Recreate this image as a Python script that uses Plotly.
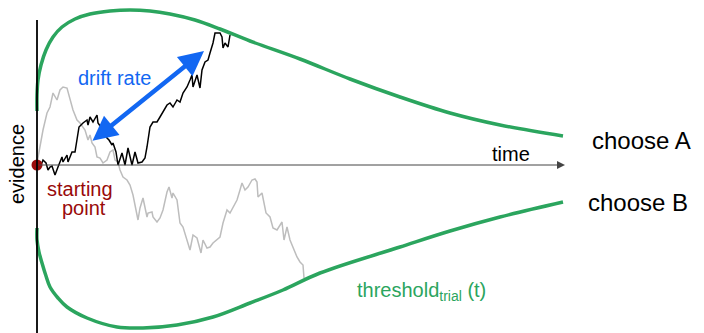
import plotly.graph_objects as go

# ---- data (pixel-like units: x = time, y = evidence, y axis drawn downward) ----
upper_x = [37, 37, 38, 41, 46, 53, 62, 75, 90, 110, 130, 150, 170, 195, 220, 250, 300, 350, 400, 450, 500, 563]
upper_y = [111, 95, 80, 65, 50, 37, 27, 19, 14, 11, 10, 11, 14, 20, 29, 41, 59, 79, 97, 113, 125, 136]

lower_x = [37, 37, 39, 42, 46, 50, 58, 67, 87, 117, 143, 177, 213, 250, 283, 320, 400, 450, 500, 563]
lower_y = [228, 240, 252, 263, 276, 287, 298, 307, 318, 327, 328, 325, 317, 303, 290, 273, 247, 231, 217, 202]

black_x = [37, 40, 43, 46, 48, 50, 52, 55, 58, 62, 63, 67, 68, 72, 75, 77, 79, 83, 87, 88, 90, 93, 97, 98,
           101, 103, 107, 109, 112, 113, 116, 118, 122, 125, 128, 132, 135, 138, 142, 145, 147, 150, 153,
           157, 160, 163, 167, 170, 173, 177, 180, 183, 187, 190, 192, 193, 197, 200, 202, 205, 208, 210,
           213, 215, 220, 222, 223, 225, 228, 230]
black_y = [165, 168, 160, 163, 170, 167, 166, 175, 167, 157, 162, 155, 162, 152, 152, 140, 127, 123, 120, 125,
           117, 122, 115, 123, 127, 130, 138, 140, 145, 143, 152, 165, 153, 165, 148, 165, 152, 163, 162,
           158, 147, 127, 122, 122, 117, 112, 105, 103, 107, 100, 102, 93, 87, 80, 75, 87, 75, 88, 70, 62,
           60, 53, 43, 33, 33, 37, 48, 43, 47, 35]

gray_x = [37, 40, 43, 47, 50, 53, 57, 60, 63, 67, 70, 73, 77, 80, 85, 88, 90, 92, 95, 97, 100, 103, 107, 110,
          113, 115, 118, 120, 123, 127, 130, 133, 138, 140, 143, 147, 148, 152, 153, 157, 160, 163, 167, 169,
          172, 173, 177, 180, 183, 187, 190, 193, 197, 201, 203, 207, 210, 213, 217, 220, 223, 227, 230, 233,
          237, 240, 242, 245, 248, 252, 255, 257, 258, 262, 263, 266, 270, 273, 277, 282, 284, 287, 290, 293,
          297, 300, 303, 304]
gray_y = [163, 147, 130, 113, 107, 93, 100, 90, 87, 88, 100, 110, 120, 123, 130, 140, 135, 143, 147, 157, 158,
          163, 160, 152, 150, 160, 162, 170, 177, 180, 185, 195, 220, 208, 198, 217, 213, 212, 217, 222, 218,
          210, 192, 187, 198, 193, 200, 223, 227, 240, 250, 235, 238, 253, 240, 248, 247, 243, 240, 237, 223,
          210, 213, 208, 200, 190, 183, 190, 187, 180, 179, 182, 197, 193, 198, 213, 217, 228, 230, 222, 240,
          227, 240, 247, 257, 262, 265, 278]

start_x = [37]
start_y = [165]

GREEN = "#2ba55e"
BLUE = "#1267f2"
RED = "#990a0a"
GRAY = "#bdbdbd"
FONT = "Liberation Sans, Arial, sans-serif"

fig = go.Figure()

fig.add_trace(go.Scatter(x=gray_x, y=gray_y, mode="lines", line=dict(color=GRAY, width=1.5), hoverinfo="skip"))
fig.add_trace(go.Scatter(x=black_x, y=black_y, mode="lines", line=dict(color="black", width=1.5), hoverinfo="skip"))
fig.add_trace(go.Scatter(x=upper_x, y=upper_y, mode="lines", line=dict(color=GREEN, width=3.5, shape="spline", smoothing=1.0), hoverinfo="skip"))
fig.add_trace(go.Scatter(x=lower_x, y=lower_y, mode="lines", line=dict(color=GREEN, width=3.5, shape="spline", smoothing=1.0), hoverinfo="skip"))

# vertical evidence axis
fig.add_shape(type="line", x0=37, x1=37, y0=20, y1=333, xref="x", yref="y", line=dict(color="black", width=1.8))

# time axis with arrow
fig.add_annotation(x=565, y=165, ax=37, ay=165, xref="x", yref="y", axref="x", ayref="y",
                   text="", showarrow=True, arrowhead=2, arrowsize=1.6, arrowwidth=1, arrowcolor="#444444", standoff=0)

# drift-rate double arrow
fig.add_annotation(x=204, y=51, ax=91, ay=142, xref="x", yref="y", axref="x", ayref="y",
                   text="", showarrow=True, arrowhead=2, startarrowhead=2, arrowside="end+start",
                   arrowsize=1.1, startarrowsize=1.1, arrowwidth=4.5, arrowcolor=BLUE, standoff=0, startstandoff=0)

fig.add_trace(go.Scatter(x=start_x, y=start_y, mode="markers", marker=dict(color=RED, size=11), hoverinfo="skip"))

def label(text, x, y, color="black", size=20, angle=0, xanchor="center"):
    fig.add_annotation(x=x, y=y, xref="x", yref="y", text=text, showarrow=False, textangle=angle,
                       xanchor=xanchor, yanchor="middle", font=dict(family=FONT, size=size, color=color))

label("evidence", 17, 164, angle=-90)
label("starting", 80, 189, color=RED)
label("point", 84, 208, color=RED)
label("drift rate", 114, 78, color=BLUE)
label("time", 511, 154)
label("choose A", 641, 140, size=24)
label("choose B", 638, 202, size=24)
label("threshold<sub>trial</sub> (t)", 421, 291, color=GREEN)

fig.update_layout(
    width=704, height=333, margin=dict(l=0, r=0, t=0, b=0),
    paper_bgcolor="white", plot_bgcolor="white", showlegend=False,
    xaxis=dict(range=[0, 704], visible=False, fixedrange=True),
    yaxis=dict(range=[333, 0], visible=False, fixedrange=True),
)

fig.write_html("out.html")
